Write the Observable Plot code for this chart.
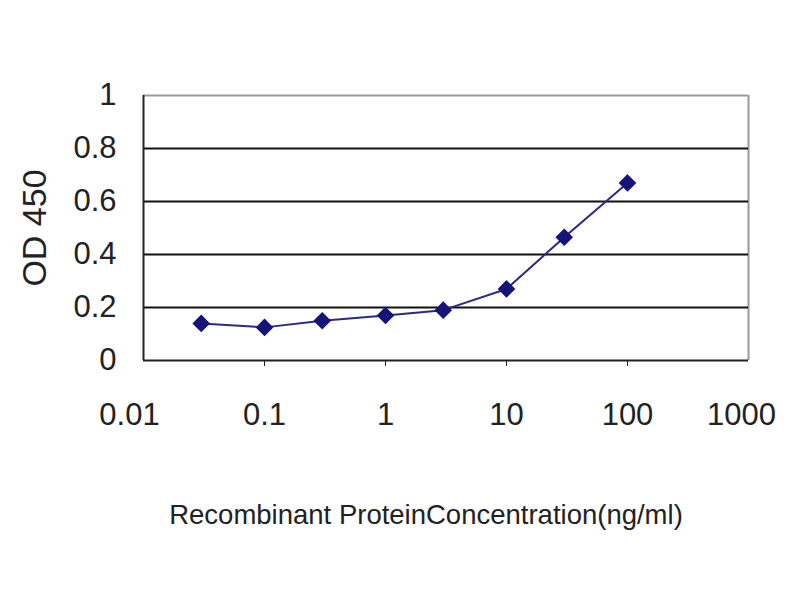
<!DOCTYPE html>
<html>
<head>
<meta charset="utf-8">
<script src="https://cdn.jsdelivr.net/npm/d3@7"></script>
<script src="https://cdn.jsdelivr.net/npm/@observablehq/plot@0.6"></script>
<style>
  html, body { margin: 0; padding: 0; background: #fff; }
  svg { font-family: "Liberation Sans", Arial, sans-serif; }
</style>
</head>
<body>
<div id="chart"></div>
<script>
const concentrations = [0.03, 0.1, 0.3, 1, 3, 10, 30, 100];
const odValues = [0.14, 0.125, 0.15, 0.17, 0.19, 0.27, 0.465, 0.67];
const xTicks = [0.01, 0.1, 1, 10, 100, 1000];
const xTickLabels = ["0.01", "0.1", "1", "10", "100", "1000"];
const yTicks = [0, 0.2, 0.4, 0.6, 0.8, 1];
const yTickLabels = ["0", "0.2", "0.4", "0.6", "0.8", "1"];
const gridValues = [0.2, 0.4, 0.6, 0.8];
const xLabel = "Recombinant ProteinConcentration(ng/ml)";
const yLabel = "OD 450";

const data = concentrations.map((c, i) => ({conc: c, od: odValues[i]}));
const navy = "#14147a";
const fmtX = (d) => xTickLabels[xTicks.indexOf(d)];
const tickFont = 31;

const chart = Plot.plot({
  width: 800,
  height: 600,
  marginLeft: 143,
  marginRight: 52,
  marginTop: 95,
  marginBottom: 240,
  style: {fontFamily: "'Liberation Sans', Arial, sans-serif", color: "#222", background: "#fff"},
  x: {type: "log", domain: [0.01, 1000]},
  y: {domain: [0, 1]},
  marks: [
    Plot.ruleY([1], {stroke: "#999", strokeWidth: 2}),
    Plot.ruleX([1000], {stroke: "#999", strokeWidth: 2}),
    Plot.ruleY(gridValues, {stroke: "#111", strokeWidth: 2}),
    Plot.ruleY([0], {stroke: "#222", strokeWidth: 2}),
    Plot.ruleX([0.01], {stroke: "#222", strokeWidth: 2}),
    Plot.axisX({
      ticks: xTicks.slice(1, -1),
      tickSize: 6,
      tickFormat: () => "",
      label: null,
      stroke: "#222"
    }),
    Plot.axisX({
      ticks: xTicks.slice(1, -1),
      tickSize: 0,
      tickPadding: 42,
      tickFormat: fmtX,
      fontSize: tickFont,
      label: null,
      fill: "#222"
    }),
    Plot.axisX({
      ticks: [xTicks[0]],
      tickSize: 0,
      tickPadding: 42,
      dx: -14,
      tickFormat: fmtX,
      fontSize: tickFont,
      label: null,
      fill: "#222"
    }),
    Plot.axisX({
      ticks: [xTicks[xTicks.length - 1]],
      tickSize: 0,
      tickPadding: 42,
      dx: -7,
      tickFormat: fmtX,
      fontSize: tickFont,
      label: null,
      fill: "#222"
    }),
    Plot.axisY({
      ticks: yTicks,
      tickSize: 0,
      tickPadding: 27,
      tickFormat: (d) => yTickLabels[yTicks.indexOf(d)],
      fontSize: tickFont,
      label: null,
      fill: "#222"
    }),
    Plot.text([xLabel], {frameAnchor: "bottom", dx: -20, dy: 163, fontSize: 27.5, fill: "#222"}),
    Plot.text([yLabel], {frameAnchor: "left", textAnchor: "middle", dx: -108, rotate: -90, fontSize: 34, fill: "#222"}),
    Plot.line(data, {x: "conc", y: "od", stroke: "#2a2a80", strokeWidth: 2}),
    Plot.dot(data, {x: "conc", y: "od", symbol: "diamond2", r: 7, fill: navy, stroke: navy})
  ]
});
document.getElementById("chart").appendChild(chart);
</script>
</body>
</html>
